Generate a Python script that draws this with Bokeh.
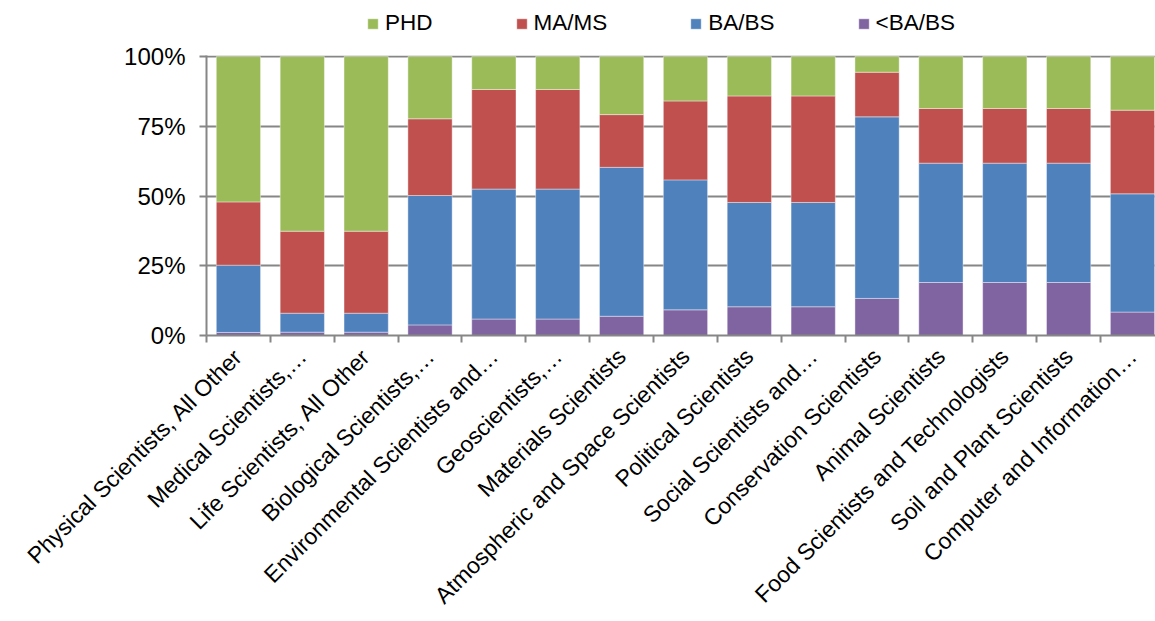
import math
from bokeh.plotting import figure
from bokeh.layouts import column
from bokeh.models import ColumnDataSource, Range1d, FixedTicker, NumeralTickFormatter, Legend
from bokeh.embed import file_html
from bokeh.resources import INLINE

categories = [
    "Physical Scientists, All Other",
    "Medical Scientists,\u2026",
    "Life Scientists, All Other",
    "Biological Scientists,\u2026",
    "Environmental Scientists and\u2026",
    "Geoscientists,\u2026",
    "Materials Scientists",
    "Atmospheric and Space Scientists",
    "Political Scientists",
    "Social Scientists and\u2026",
    "Conservation Scientists",
    "Animal Scientists",
    "Food Scientists and Technologists",
    "Soil and Plant Scientists",
    "Computer and Information\u2026",
]

# shares of each degree level (fractions of 1)
lt_ba = [0.011, 0.012, 0.012, 0.038, 0.059, 0.059, 0.069, 0.092, 0.103, 0.103, 0.133, 0.190, 0.190, 0.190, 0.084]
ba_bs = [0.241, 0.068, 0.068, 0.464, 0.466, 0.466, 0.534, 0.466, 0.374, 0.374, 0.651, 0.428, 0.428, 0.428, 0.424]
ma_ms = [0.227, 0.294, 0.294, 0.275, 0.357, 0.357, 0.189, 0.283, 0.382, 0.382, 0.160, 0.196, 0.196, 0.196, 0.300]
phd   = [0.521, 0.626, 0.626, 0.223, 0.118, 0.118, 0.208, 0.159, 0.141, 0.141, 0.056, 0.186, 0.186, 0.186, 0.192]

series_names = ["<BA/BS", "BA/BS", "MA/MS", "PHD"]
colors = ["#8064A2", "#4F81BD", "#C0504D", "#9BBB59"]
y_ticks = [0, 0.25, 0.5, 0.75, 1.0]

x = list(range(len(categories)))
source = ColumnDataSource(dict(x=x, lt=lt_ba, ba=ba_bs, ma=ma_ms, phd=phd))

FONT = "Liberation Sans"
GRID = "#868686"
BAR_KW = dict(x="x", width=0.693, source=source, color=colors,
              line_color="white", line_alpha=0.5, line_width=0.8)

# ---- legend strip (hidden copies of the bars feed the legend) ----
lf = figure(width=1155, height=40, output_backend="svg", toolbar_location=None,
            x_range=Range1d(100, 101), y_range=Range1d(0, 1),
            x_axis_location=None, y_axis_location=None,
            min_border_left=0, min_border_right=0, min_border_top=0, min_border_bottom=0)
lf.outline_line_color = None
lf.xgrid.grid_line_color = None
lf.ygrid.grid_line_color = None
leg_r = lf.vbar_stack(["lt", "ba", "ma", "phd"], **BAR_KW)
for r in leg_r:
    r.visible = False

legend = Legend(items=[(series_names[i], [leg_r[i]]) for i in [3, 2, 1, 0]],
                orientation="horizontal", location=(160, 4))
legend.glyph_width = 13
legend.glyph_height = 13
legend.label_standoff = 6
legend.spacing = 82
legend.padding = 0
legend.margin = 0
legend.border_line_color = None
legend.background_fill_alpha = 0
legend.inactive_fill_alpha = 0
legend.click_policy = "none"
legend.label_text_font = FONT
legend.label_text_font_size = "22.5px"
legend.label_text_color = "black"
lf.add_layout(legend, "center")

# ---- main chart ----
p = figure(width=1155, height=581, output_backend="svg", toolbar_location=None,
           x_range=Range1d(-0.5, 14.36), y_range=Range1d(0, 1.004),
           min_border_left=206, min_border_right=0, min_border_top=15, min_border_bottom=286)
p.outline_line_color = None

renderers = p.vbar_stack(["lt", "ba", "ma", "phd"], **BAR_KW)

p.xaxis.ticker = FixedTicker(ticks=x, minor_ticks=[i - 0.5 for i in range(len(categories) + 1)])
p.xaxis.major_label_overrides = {i: c for i, c in enumerate(categories)}
p.xaxis.major_label_orientation = math.pi / 4
p.xaxis.major_tick_line_color = None
p.xaxis.major_tick_out = 0
p.xaxis.major_tick_in = 0
p.xaxis.minor_tick_line_color = GRID
p.xaxis.minor_tick_line_width = 2
p.xaxis.minor_tick_out = 7
p.xaxis.minor_tick_in = 0
p.xaxis.axis_line_color = GRID
p.xaxis.axis_line_width = 2
p.xaxis.major_label_standoff = 10
p.xaxis.major_label_text_font = FONT
p.xaxis.major_label_text_font_size = "23px"
p.xaxis.major_label_text_color = "black"

p.yaxis.ticker = FixedTicker(ticks=y_ticks, minor_ticks=[])
p.yaxis.formatter = NumeralTickFormatter(format="0%")
p.yaxis.major_tick_line_color = GRID
p.yaxis.major_tick_line_width = 2
p.yaxis.major_tick_out = 7
p.yaxis.major_tick_in = 0
p.yaxis.axis_line_color = GRID
p.yaxis.axis_line_width = 2
p.yaxis.major_label_standoff = 14
p.yaxis.major_label_text_font = FONT
p.yaxis.major_label_text_font_size = "24px"
p.yaxis.major_label_text_color = "black"

p.xgrid.grid_line_color = None
p.ygrid.grid_line_color = GRID
p.ygrid.grid_line_width = 2

layout = column(lf, p, spacing=0)
open("out.html", "w").write(file_html(layout, INLINE))
